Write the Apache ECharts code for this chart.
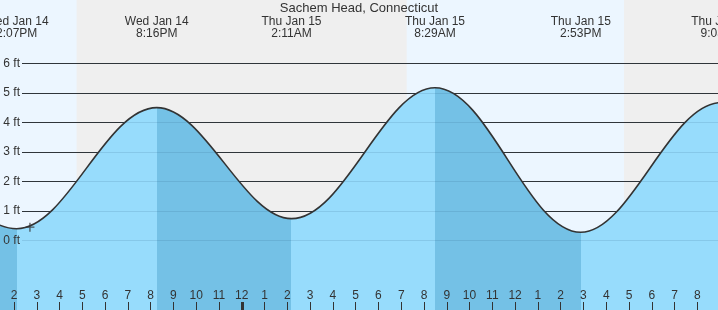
<!DOCTYPE html>
<html><head><meta charset="utf-8">
<script src="https://cdn.jsdelivr.net/npm/echarts@6/dist/echarts.min.js"></script>
<style>html,body{margin:0;padding:0;background:#efefef}#c{width:718px;height:310px}</style>
</head><body><div id="c"></div>
<script>
// ---- data (time = hours after Wed Jan 14 00:00, heights in ft) ----
const tideTimes   = [7.85, 14.117, 20.267, 26.183, 32.483, 38.883, 45.05, 51.3];
const tideHeights = [4.60, 0.40,   4.50,   0.74,   5.17,   0.28,   4.67,  0.50];
const headerTimes = [14.117, 20.267, 26.183, 32.483, 38.883, 45.05];
const headerTexts = ['Wed Jan 14\n2:07PM', 'Wed Jan 14\n8:16PM', 'Thu Jan 15\n2:11AM',
                     'Thu Jan 15\n8:29AM', 'Thu Jan 15\n2:53PM', 'Thu Jan 15\n9:03PM'];
const hourTicks  = [14,15,16,17,18,19,20,21,22,23,24,25,26,27,28,29,30,31,32,33,34,35,36,37,38,39,40,41,42,43,44];
const hourLabels = ['2','3','4','5','6','7','8','9','10','11','12','1','2','3','4','5','6','7','8','9','10','11','12','1','2','3','4','5','6','7','8'];
const midnightTicks = [24];
const daylight = [[7.2, 16.75], [31.24, 40.78]];
const feetTicks = [0, 1, 2, 3, 4, 5, 6];
const nowPoint = [14.70, 0.45];
const titleText = 'Sachem Head, Connecticut';

// ---- styling ----
const FONT = 'Liberation Sans, Arial, sans-serif';
const TXT = '#333';
const NIGHT = '#efefef', DAY = '#ecf6ff';
const WATER = '#97dcfc', WATER_FALL = '#74c1e6';

const curve = tideTimes.map((t, i) => [t, tideHeights[i]]);
const pieces = [];
for (let i = 0; i < tideTimes.length - 1; i++) {
  pieces.push({ gte: tideTimes[i], lt: tideTimes[i + 1],
    color: tideHeights[i + 1] < tideHeights[i] ? WATER_FALL : WATER });
}

const mainGrid = { left: -8.78, right: -2.1, top: 0, bottom: 0, outerBoundsMode: 'none' };
const ftGrid = { left: 22, right: 0, top: 63.3, bottom: 69.5, outerBoundsMode: 'none' };

const chart = echarts.init(document.getElementById('c'), null, { renderer: 'canvas' });
chart.setOption({
  animation: false,
  backgroundColor: NIGHT,
  textStyle: { fontFamily: FONT },
  title: { text: titleText, left: 'center', top: 2, padding: 0,
    textStyle: { fontSize: 13, fontWeight: 'normal', color: TXT, fontFamily: FONT } },
  grid: [
    mainGrid,
    ftGrid,
    Object.assign({}, ftGrid),
    { left: -8.78, right: -24.9, top: 41.5, height: 10, outerBoundsMode: 'none' }
  ],
  xAxis: [
    { gridIndex: 0, type: 'value', min: 13, max: 45, position: 'bottom', z: 10,
      axisLine: { show: false, onZero: false }, splitLine: { show: false },
      axisTick: { show: true, inside: true, length: 8, customValues: hourTicks,
        lineStyle: { color: TXT, width: 1 } },
      axisLabel: { show: true, inside: true, margin: 8, customValues: hourTicks,
        formatter: v => hourLabels[hourTicks.indexOf(v)],
        fontSize: 12, color: TXT, fontFamily: FONT } },
    { gridIndex: 0, type: 'value', min: 13, max: 45, position: 'bottom', offset: 0, z: 10,
      axisLine: { show: false, onZero: false }, splitLine: { show: false }, axisLabel: { show: false },
      axisTick: { show: true, inside: true, length: 8, customValues: midnightTicks,
        lineStyle: { color: TXT, width: 3 } } },
    { gridIndex: 1, type: 'value', min: 0, max: 1, show: false },
    { gridIndex: 2, type: 'value', min: 0, max: 1, show: false },
    { gridIndex: 3, type: 'value', min: 13, max: 46, position: 'top',
      axisLine: { show: false, onZero: false }, axisTick: { show: false }, splitLine: { show: false },
      axisLabel: { show: true, margin: 2, customValues: headerTimes,
        formatter: v => headerTexts[headerTimes.indexOf(v)],
        fontSize: 12, lineHeight: 12, color: TXT, fontFamily: FONT } }
  ],
  yAxis: [
    { gridIndex: 0, type: 'value', min: -2.353, max: 8.143, show: false },
    { gridIndex: 1, type: 'value', min: 0, max: 6, interval: 1,
      axisLine: { show: false }, axisTick: { show: false }, axisLabel: { show: false },
      splitLine: { show: true, lineStyle: { color: '#333', width: 1 } } },
    { gridIndex: 2, type: 'value', min: 0, max: 6, interval: 1, z: 10,
      axisLine: { show: false }, axisTick: { show: false },
      axisLabel: { show: true, margin: 2, formatter: '{value} ft', fontSize: 12, color: TXT, fontFamily: FONT },
      splitLine: { show: true, lineStyle: { color: 'rgba(20,70,110,0.13)', width: 1 } } },
    { gridIndex: 3, type: 'value', show: false }
  ],
  visualMap: { type: 'piecewise', show: false, dimension: 0, seriesIndex: 0, pieces: pieces },
  series: [
    { type: 'line', xAxisIndex: 0, yAxisIndex: 0, data: curve, smooth: 0.36, symbol: 'none',
      lineStyle: { width: 0 }, areaStyle: { opacity: 1, origin: 'start' }, z: 2,
      markArea: { silent: true, z: -1, itemStyle: { color: DAY, borderWidth: 0 },
        data: daylight.map(r => [{ xAxis: r[0] }, { xAxis: r[1] }]) } },
    { type: 'line', xAxisIndex: 0, yAxisIndex: 0, data: curve, smooth: 0.36, symbol: 'none',
      lineStyle: { color: '#333', width: 1.6 }, z: 3 },
    { type: 'scatter', xAxisIndex: 0, yAxisIndex: 0, data: [nowPoint], z: 4,
      symbol: 'path://M0,5L10,5M5,0L5,10', symbolSize: 9,
      itemStyle: { color: 'none', borderColor: '#333', borderWidth: 1.3 } }
  ]
});
</script>
</body></html>
